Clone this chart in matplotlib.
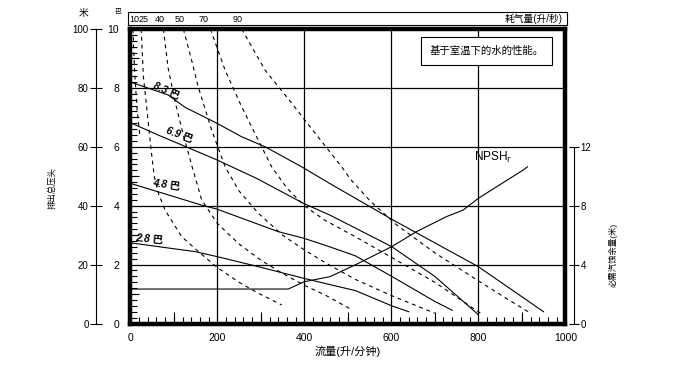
import numpy as np
import matplotlib
matplotlib.use("Agg")
import matplotlib.pyplot as plt

plt.rcParams['font.family'] = ['Liberation Sans', 'Noto Sans CJK SC', 'DejaVu Sans']

# =================================
# DATA
# =================================

# air inlet pressure curves (bar) : flow in l/min, head in bar
p83_flow = [0, 87, 126, 199, 256, 310, 394, 459, 601, 800, 950]
p83_head = [8.2, 7.76, 7.34, 6.8, 6.34, 6.0, 5.32, 4.75, 3.54, 1.93, 0.4]

p69_flow = [0, 64, 200, 290, 398, 459, 601, 700, 800]
p69_head = [6.82, 6.4, 5.55, 4.93, 4.08, 3.68, 2.61, 1.6, 0.3]

p48_flow = [0, 164, 200, 340, 400, 459, 517, 601, 700, 740]
p48_head = [4.76, 4.02, 3.88, 3.12, 2.89, 2.6, 2.3, 1.6, 0.75, 0.45]

p28_flow = [0, 149, 200, 294, 400, 459, 517, 601, 640]
p28_head = [2.74, 2.44, 2.27, 1.93, 1.53, 1.32, 1.12, 0.6, 0.4]

pressure_labels = ["8.3 巴", "6.9 巴", "4.8 巴", "2.8 巴"]

# air consumption curves (l/s)
air_labels = ["10", "25", "40", "50", "70", "90"]

a10_flow = [6, 10, 16, 22]
a10_head = [10, 8.5, 7.2, 6.4]

a25_flow = [25, 30, 38, 47, 55, 65, 80, 118, 160, 200, 250, 294, 348]
a25_head = [10, 8.4, 7.3, 6.0, 5.0, 4.4, 3.85, 2.95, 2.4, 1.9, 1.4, 1.03, 0.63]

a40_flow = [76, 87, 103, 122, 141, 164, 200, 250, 300, 350, 400, 450, 505]
a40_head = [10, 8.67, 7.53, 6.4, 5.38, 4.2, 3.4, 2.7, 2.15, 1.7, 1.3, 0.95, 0.5]

a50_flow = [122, 140, 156, 187, 218, 250, 294, 350, 400, 450, 517, 600, 700]
a50_head = [10, 9.0, 8.04, 6.57, 5.32, 4.5, 3.75, 3.0, 2.5, 2.05, 1.5, 0.95, 0.35]

a70_flow = [184, 218, 256, 294, 325, 360, 400, 448, 517, 600, 700, 810]
a70_head = [10, 8.6, 7.36, 6.23, 5.32, 4.6, 4.0, 3.5, 2.95, 2.25, 1.4, 0.3]

a90_flow = [256, 310, 371, 425, 486, 506, 552, 612, 700, 800, 870, 920]
a90_head = [10, 8.6, 7.48, 6.46, 5.32, 4.9, 4.15, 3.35, 2.4, 1.45, 0.8, 0.35]

# NPSHr (m)
npsh_flow = [0, 363, 400, 459, 517, 601, 658, 727, 765, 800, 903, 913]
npsh_m = [2.34, 2.34, 2.84, 3.18, 3.98, 5.22, 6.24, 7.26, 7.7, 8.5, 10.42, 10.64]

x_ticks = [0, 200, 400, 600, 800, 1000]
bar_ticks = [0, 2, 4, 6, 8, 10]
m_ticks = [0, 20, 40, 60, 80, 100]
npsh_ticks = [0, 4, 8, 12]

# =================================
# FIGURE
# =================================

W, H = 678, 370
fig = plt.figure(figsize=(W / 100, H / 100), dpi=100)

left, right, top, bottom = 130.3, 565.3, 29.0, 323.5
ax = fig.add_axes([left / W, 1 - bottom / H, (right - left) / W, (bottom - top) / H])
ax.set_xlim(0, 1000)
ax.set_ylim(0, 10)

for s in ax.spines.values():
    s.set_linewidth(3.2)

# grid
ax.set_xticks(x_ticks)
ax.set_yticks(bar_ticks)
ax.grid(True, color="black", linewidth=0.9)
ax.set_axisbelow(True)
ax.set_xticks(np.arange(0, 1001, 20), minor=True)
ax.set_yticks(np.arange(0, 10.01, 0.2), minor=True)
ax.tick_params(which="major", direction="in", length=0, labelsize=7.5)
ax.tick_params(which="minor", direction="in", length=5, width=0.8)
ax.tick_params(axis="x", which="major", pad=7)
ax.tick_params(axis="y", which="major", pad=8)
# longer ticks at odd hundreds / odd bars
ax.vlines(np.arange(100, 1000, 200), 0, 0.4, color="black", lw=0.8)
ax.hlines(np.arange(1, 10, 2), 0, 20, color="black", lw=0.8)

ax.set_xlabel("流量(升/分钟)", fontsize=8, labelpad=2)

# pressure curves
for fl, hd in [(p83_flow, p83_head), (p69_flow, p69_head),
               (p48_flow, p48_head), (p28_flow, p28_head)]:
    ax.plot(fl, hd, color="black", lw=0.8)

# air consumption curves
air_curves = [(a10_flow, a10_head), (a25_flow, a25_head), (a40_flow, a40_head),
              (a50_flow, a50_head), (a70_flow, a70_head), (a90_flow, a90_head)]
for fl, hd in air_curves:
    ax.plot(fl, hd, color="black", lw=0.8, linestyle=(0, (3.5, 3.5)))

# curve labels
plab_pos = [(82, 7.9), (112, 6.4), (84, 4.72), (44, 2.85)]
plab_rot = [-24, -20, -8, -5]
for txt, (px, py), r in zip(pressure_labels, plab_pos, plab_rot):
    ax.text(px, py, txt, fontsize=7.5, fontweight="bold", fontstyle="italic",
            rotation=r, ha="center", va="center")

ax.text(819, 9.25, "基于室温下的水的性能。", fontsize=7.5, ha="center", va="center",
        bbox=dict(boxstyle="square,pad=0.85", fc="white", ec="black", lw=0.8))

# metres axis on the far left
ax_m = ax.twinx()
ax_m.set_ylim(0, 100)
for k in ["top", "bottom", "right"]:
    ax_m.spines[k].set_visible(False)
ax_m.spines["left"].set_visible(True)
ax_m.spines["left"].set_position(("outward", 25))
ax_m.spines["left"].set_linewidth(0.8)
ax_m.yaxis.set_ticks_position("left")
ax_m.set_yticks(m_ticks)
ax_m.tick_params(direction="inout", length=8, width=0.8, labelsize=7, pad=1)

# NPSH axis on the right
ax_n = ax.twinx()
ax_n.set_ylim(0, 20)
for k in ["top", "bottom", "left"]:
    ax_n.spines[k].set_visible(False)
ax_n.spines["right"].set_position(("outward", 6.5))
ax_n.spines["right"].set_linewidth(0.8)
ax_n.spines["right"].set_bounds(0, 12)
ax_n.set_yticks(npsh_ticks)
ax_n.tick_params(direction="inout", length=7, width=0.8, labelsize=7, pad=1)
ax_n.plot(npsh_flow, npsh_m, color="black", lw=0.8)
ax.text(790, 5.65, r"NPSH$_\mathrm{r}$", fontsize=8.5, ha="left", va="center")

# air consumption band on top
band = fig.add_axes([128 / W, 1 - 25 / H, (567 - 128) / W, 13 / H])
band.set_xlim(0, 1000)
band.set_ylim(0, 1)
band.set_xticks([])
band.set_yticks([])
for s in band.spines.values():
    s.set_linewidth(0.8)
air_label_x = [14, 36, 72, 117, 172, 250]
for lab, xx in zip(air_labels, air_label_x):
    band.text(xx, 0.45, lab, fontsize=6.5, ha="center", va="center")
band.text(990, 0.45, "耗气量(升/秒)", fontsize=7, ha="right", va="center")

# axis titles
fig.text(84 / W, 1 - 13 / H, "米", fontsize=7, ha="center", va="center")
fig.text(118 / W, 1 - 13 / H, "巴", fontsize=5, ha="center", va="center")
fig.text(52 / W, 1 - 188 / H, "排出总压头", fontsize=6, rotation=90,
         ha="center", va="center")
fig.text(613 / W, 1 - 255 / H, "必需汽蚀余量(米)", fontsize=6, rotation=90,
         ha="center", va="center")

plt.savefig("out.png", dpi=100)
